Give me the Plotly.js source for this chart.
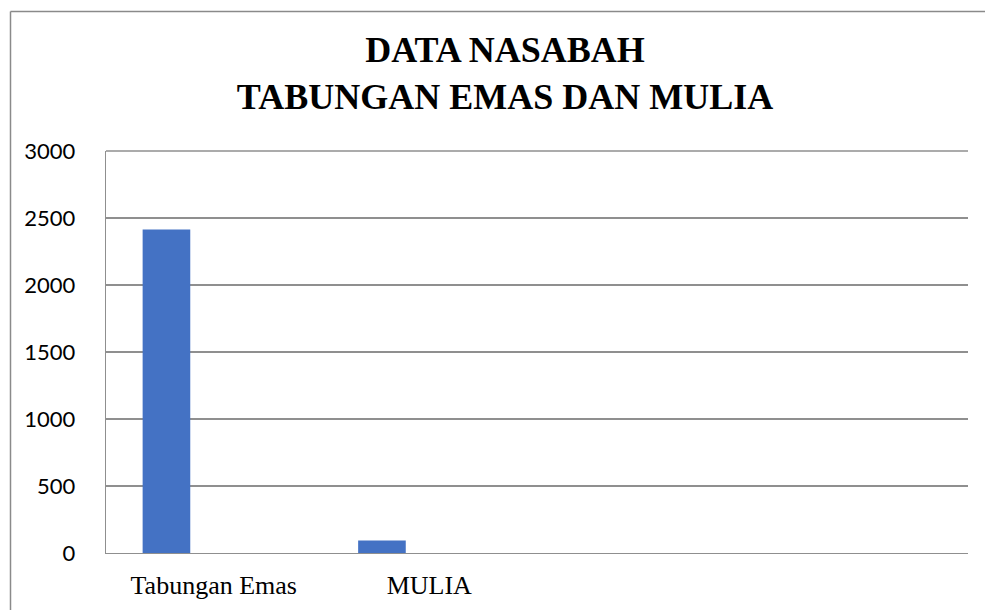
<!DOCTYPE html>
<html>
<head>
<meta charset="utf-8">
<script src="https://cdn.plot.ly/plotly-3.0.1.min.js"></script>
<style>
html,body{margin:0;padding:0;background:#fff;}
#chart{width:985px;height:610px;}
</style>
</head>
<body>
<div id="chart"></div>
<script>
const categories = ["Tabungan Emas", "MULIA"];
const values = [2415, 93];
const yTicks = [0, 500, 1000, 1500, 2000, 2500, 3000];
const titleLines = ["DATA NASABAH", "TABUNGAN EMAS DAN MULIA"];

const trace = {
  type: "bar",
  x: categories,
  y: values,
  width: 0.221,
  offset: -0.33,
  marker: {color: "#4472C4", line: {width: 0}},
  hoverinfo: "x+y"
};

const layout = {
  width: 985, height: 610,
  paper_bgcolor: "#ffffff", plot_bgcolor: "#ffffff",
  margin: {l: 106, r: 17, t: 151, b: 57, pad: 0},
  showlegend: false,
  title: {
    text: titleLines.map(s => "<b>" + s + "</b>").join("<br>"),
    font: {family: "Liberation Serif", size: 36, color: "#000"},
    x: 505/985, xanchor: "center", xref: "container",
    y: 1 - 62/610, yanchor: "middle", yref: "container"
  },
  xaxis: {
    type: "category",
    categoryorder: "array", categoryarray: categories,
    range: [-0.5, 3.5],
    showgrid: false, zeroline: false,
    showline: true, linecolor: "#8f8f8f", linewidth: 1.3,
    ticks: "",
    tickfont: {family: "Liberation Serif", size: 26, color: "#000"},
    ticklabelstandoff: 8
  },
  yaxis: {
    range: [0, 3000],
    tickvals: yTicks,
    ticktext: yTicks.map(String),
    showgrid: true, gridcolor: "#8f8f8f", gridwidth: 1.3,
    zeroline: false,
    showline: true, linecolor: "#8f8f8f", linewidth: 1.3,
    ticks: "",
    tickfont: {family: "Lato", size: 22, color: "#000"},
    ticklabelstandoff: 25
  },
  shapes: [
    {type: "line", xref: "paper", yref: "paper", x0: 0, x1: 1, y0: 1, y1: 1, line: {color: "#8f8f8f", width: 1.3}},
    {type: "line", xref: "paper", yref: "paper", x0: (10.5-106)/862, x1: (10.5-106)/862, y0: (553-11.5)/402, y1: -0.2, line: {color: "#8a8a8a", width: 1.5}},
    {type: "line", xref: "paper", yref: "paper", x0: (10.5-106)/862, x1: 1.03, y0: (553-11.5)/402, y1: (553-11.5)/402, line: {color: "#8a8a8a", width: 1.5}}
  ]
};

Plotly.newPlot("chart", [trace], layout, {displayModeBar: false, staticPlot: true});
</script>
</body>
</html>
